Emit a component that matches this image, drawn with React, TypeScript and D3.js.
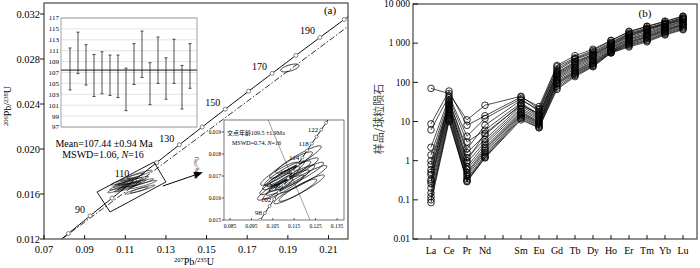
import * as d3 from "d3";

const SERIF = "'Liberation Serif', 'Times New Roman', 'Noto Sans CJK SC', serif";

// ---- panel (a): U-Pb concordia ----
const LAMBDA_238 = 1.55125e-10;
const LAMBDA_235 = 9.8485e-10;
const concordia = (t: number): [number, number] => [
  Math.exp(LAMBDA_235 * t * 1e6) - 1,
  Math.exp(LAMBDA_238 * t * 1e6) - 1,
];

const xTicksA = [0.07, 0.09, 0.11, 0.13, 0.15, 0.17, 0.19, 0.21];
const yTicksA = [0.012, 0.016, 0.02, 0.024, 0.028, 0.032];
const ageMarksA = [80, 90, 100, 110, 120, 130, 140, 150, 160, 170, 180, 190, 200];
const ageLabelsA = [90, 110, 130, 150, 170, 190];

// 16 analyses: 207Pb/235U, 206Pb/238U, errors, correlation
const ellX = [0.117, 0.1135, 0.115, 0.1105, 0.114, 0.109, 0.1175, 0.112, 0.107, 0.11, 0.119, 0.1185, 0.1155, 0.108, 0.1125, 0.106];
const ellY = [0.01775, 0.0175, 0.0172, 0.01712, 0.0169, 0.0169, 0.017, 0.0167, 0.01665, 0.0165, 0.01685, 0.01645, 0.0163, 0.0171, 0.0171, 0.0164];
const ellSx = [0.0085, 0.008, 0.009, 0.0075, 0.0085, 0.007, 0.009, 0.008, 0.0065, 0.0075, 0.009, 0.0085, 0.008, 0.007, 0.0082, 0.0065];
const ellSy = [0.0005, 0.00048, 0.0005, 0.00045, 0.00048, 0.00042, 0.0005, 0.00046, 0.0004, 0.00044, 0.0005, 0.00048, 0.00045, 0.00042, 0.00047, 0.0004];
const ellRho = [0.93, 0.92, 0.93, 0.92, 0.93, 0.91, 0.94, 0.93, 0.9, 0.92, 0.94, 0.94, 0.93, 0.91, 0.92, 0.9];

// discordant grain near 180 Ma
const outlier = { x: 0.191, y: 0.0272, sx: 0.0045, sy: 0.00035, rho: 0.6 };

// dash-dot reference line and annotation box / arrow (data coordinates)
const dashLine: [number, number][] = [[0.0788, 0.012], [0.22, 0.03094]];
const clusterBox: [number, number][] = [[0.0961, 0.01618], [0.1241, 0.01884], [0.13, 0.01707], [0.1025, 0.0144]];
const arrowA: [number, number][] = [[0.1285, 0.01671], [0.1482, 0.01793]];

// weighted mean inset
const meanTicks = [97, 99, 101, 103, 105, 107, 109, 111, 113, 115, 117];
const barLow = [103.8, 106.8, 104.7, 102.6, 103.1, 102.8, 102.4, 100.0, 104.8, 106.1, 101.1, 105.0, 102.1, 105.0, 100.3, 104.1];
const barHigh = [111.5, 114.4, 112.1, 110.3, 110.8, 110.2, 110.2, 107.8, 112.3, 114.6, 108.8, 113.5, 109.7, 113.1, 108.3, 112.3];
const meanAge = 107.44;

// zoomed concordia inset
const xTicksI = [0.085, 0.095, 0.105, 0.115, 0.125, 0.135];
const yTicksI = [0.015, 0.016, 0.017, 0.018, 0.019];
const ageMarksI = [96, 98, 100, 102, 104, 106, 108, 110, 112, 114, 116, 118, 120, 122, 124];
const ageLabelsI = [98, 102, 106, 110, 114, 118, 122];
const discordiaI: [number, number][] = [[0.1028, 0.01955], [0.1224, 0.015]];

// ---- panel (b): chondrite-normalised REE ----
const reeAxis = ["La", "Ce", "Pr", "Nd", "Pm", "Sm", "Eu", "Gd", "Tb", "Dy", "Ho", "Er", "Tm", "Yb", "Lu"];
const reeElements = ["La", "Ce", "Pr", "Nd", "Sm", "Eu", "Gd", "Tb", "Dy", "Ho", "Er", "Tm", "Yb", "Lu"];
const yTicksB = [0.01, 0.1, 1, 10, 100, 1000, 10000];
const yTickLabelsB = ["0.01", "0.1", "1", "10", "100", "1 000", "10 000"];
const reeSamples: number[][] = [
  [70, 52, 11, 26, 44, 21, 250, 420, 650, 1150, 1950, 2650, 3550, 4800],
  [8.7, 60, 8.0, 14, 42, 24, 270, 480, 700, 1180, 2000, 2700, 3650, 4900],
  [6.1, 45, 4.2, 12, 38, 18, 220, 400, 600, 1050, 1800, 2450, 3300, 4500],
  [2.2, 40, 3.0, 6.0, 30, 15, 180, 340, 520, 950, 1650, 2250, 3100, 4200],
  [1.4, 35, 1.6, 4.5, 28, 14, 160, 300, 480, 880, 1500, 2100, 2900, 3900],
  [0.99, 30, 1.2, 3.5, 25, 13, 150, 280, 450, 820, 1400, 1950, 2700, 3700],
  [0.79, 28, 0.9, 3.0, 22, 12, 140, 260, 420, 780, 1300, 1800, 2600, 3500],
  [0.59, 25, 0.7, 2.6, 20, 11, 130, 240, 390, 740, 1250, 1700, 2450, 3300],
  [0.44, 22, 0.6, 2.2, 18, 10, 120, 220, 360, 700, 1180, 1600, 2300, 3100],
  [0.33, 20, 0.5, 2.0, 17, 9.5, 110, 200, 340, 660, 1100, 1500, 2200, 3000],
  [0.26, 18, 0.45, 1.8, 16, 9, 100, 190, 320, 640, 1050, 1450, 2100, 2900],
  [0.2, 16, 0.4, 1.6, 15, 8.5, 95, 180, 300, 620, 1000, 1400, 2000, 2800],
  [0.15, 14, 0.35, 1.4, 14, 8, 90, 170, 290, 600, 950, 1300, 1900, 2600],
  [0.12, 12, 0.32, 1.3, 13, 7.5, 80, 160, 270, 580, 900, 1200, 1800, 2450],
  [0.1, 11, 0.3, 1.2, 12, 7, 72, 150, 260, 570, 850, 1150, 1700, 2300],
  [0.085, 10, 0.29, 1.18, 11, 6.9, 66, 140, 250, 560, 800, 1080, 1620, 2200],
  [0.5, 33, 2.0, 8, 35, 20, 200, 380, 560, 1000, 1700, 2350, 3200, 4300],
  [0.3, 26, 1.0, 5, 26, 16, 170, 320, 500, 900, 1550, 2200, 3000, 4000],
];

// error ellipse outline (k scales the drawn confidence level)
function ellipsePts(cx: number, cy: number, sx: number, sy: number, r: number, k: number) {
  const pts: [number, number][] = [];
  for (let i = 0; i < 60; i++) {
    const a = (i / 60) * 2 * Math.PI;
    pts.push([cx + k * sx * Math.cos(a), cy + k * sy * (r * Math.cos(a) + Math.sqrt(1 - r * r) * Math.sin(a))]);
  }
  return pts;
}

const range = (a: number, b: number, s: number) => d3.range(a, b + s / 2, s);

export default function App() {
  // panel (a) scales
  const xA = d3.scaleLinear().domain([0.07, 0.21]).range([44, 328.5]);
  const yA = d3.scaleLinear().domain([0.012, 0.032]).range([239, 14]);
  const aL = 44, aR = 348, aT = 3, aB = 239;
  const lineA = d3.line<[number, number]>().x((d) => xA(d[0])).y((d) => yA(d[1]));
  const closedA = d3.line<[number, number]>().x((d) => xA(d[0])).y((d) => yA(d[1])).curve(d3.curveLinearClosed);
  const concA = range(74, 210, 1).map(concordia);

  // inset: weighted mean
  const yM = d3.scaleLinear().domain([97, 117]).range([127, 18]);
  const xM = d3.scaleLinear().domain([0, 15]).range([70, 190]);

  // inset: zoomed concordia
  const xI = d3.scaleLinear().domain([0.085, 0.135]).range([230, 337]);
  const yI = d3.scaleLinear().domain([0.015, 0.019]).range([220, 132]);
  const iL = 224, iR = 344, iT = 120, iB = 220;
  const lineI = d3.line<[number, number]>().x((d) => xI(d[0])).y((d) => yI(d[1]));
  const closedI = d3.line<[number, number]>().x((d) => xI(d[0])).y((d) => yI(d[1])).curve(d3.curveLinearClosed);
  const concI = range(94, 127, 0.5).map(concordia);

  // panel (b) scales
  const xB = d3.scalePoint<string>().domain(reeAxis).range([431, 683]);
  const yB = d3.scaleLog().domain([0.01, 10000]).range([239, 4]);
  const bL = 413, bR = 697, bT = 4, bB = 239;
  const lineB = d3
    .line<number>()
    .x((_, i) => xB(reeElements[i])!)
    .y((d) => yB(d));

  // arrow
  const a0 = [xA(arrowA[0][0]), yA(arrowA[0][1])];
  const a1 = [xA(arrowA[1][0]), yA(arrowA[1][1])];
  const ang = Math.atan2(a1[1] - a0[1], a1[0] - a0[0]);
  const hl = 9, hw = 3.5;
  const bx = a1[0] - hl * Math.cos(ang), by = a1[1] - hl * Math.sin(ang);
  const head = `M${a1[0]},${a1[1]}L${bx + hw * Math.sin(ang)},${by - hw * Math.cos(ang)}L${bx - hw * Math.sin(ang)},${by + hw * Math.cos(ang)}Z`;

  return (
    <svg
      width={700}
      height={268}
      style={{ position: "absolute", left: 0, top: 0, background: "#fff" }}
      fontFamily={SERIF}
    >
      <defs>
        <clipPath id="clipA">
          <rect x={aL} y={aT} width={aR - aL} height={aB - aT} />
        </clipPath>
        <clipPath id="clipI">
          <rect x={iL} y={iT} width={iR - iL} height={iB - iT} />
        </clipPath>
      </defs>

      {/* ===== panel (a) ===== */}
      <g clipPath="url(#clipA)">
        <path d={lineA(concA)!} fill="none" stroke="#000" strokeWidth={1} />
        <path d={lineA(dashLine)!} fill="none" stroke="#000" strokeWidth={0.8} strokeDasharray="6,2,1.5,2" />
        {ageMarksA.map((t) => {
          const [cx, cy] = concordia(t);
          return <circle key={t} cx={xA(cx)} cy={yA(cy)} r={2} fill="#fff" stroke="#666" strokeWidth={0.8} />;
        })}
        {ageLabelsA.map((t) => {
          const [cx, cy] = concordia(t);
          return (
            <text key={t} x={xA(cx) - 5} y={yA(cy) - 3} fontSize={10} textAnchor="end">
              {t}
            </text>
          );
        })}
        {ellX.map((_, i) => (
          <path
            key={i}
            d={closedA(ellipsePts(ellX[i], ellY[i], ellSx[i], ellSy[i], ellRho[i], 0.72))!}
            fill="none"
            stroke="#000"
            strokeWidth={0.6}
          />
        ))}
        <path d={closedA(ellipsePts(outlier.x, outlier.y, outlier.sx, outlier.sy, outlier.rho, 1))!} fill="none" stroke="#000" strokeWidth={0.8} />
        <path d={closedA(clusterBox)!} fill="none" stroke="#000" strokeWidth={0.9} />
        <line x1={a0[0]} y1={a0[1]} x2={bx} y2={by} stroke="#000" strokeWidth={1} />
        <path d={head} fill="#000" />
      </g>

      {/* weighted mean inset */}
      <rect x={61} y={18} width={136} height={109} fill="#fff" />
      {meanTicks.map((v) => (
        <g key={v}>
          <line x1={61} x2={197} y1={yM(v)} y2={yM(v)} stroke="#d0d0d0" strokeWidth={0.6} />
          <text x={59} y={yM(v) + 2.4} fontSize={7} textAnchor="end">
            {v}
          </text>
        </g>
      ))}
      <rect x={61} y={18} width={136} height={109} fill="none" stroke="#999" strokeWidth={0.9} />
      <line x1={61} x2={197} y1={yM(meanAge)} y2={yM(meanAge)} stroke="#777" strokeWidth={1.6} />
      {barLow.map((lo, i) => (
        <g key={i} stroke="#222" strokeWidth={0.8}>
          <line x1={xM(i)} x2={xM(i)} y1={yM(lo)} y2={yM(barHigh[i])} />
          <line x1={xM(i) - 1.5} x2={xM(i) + 1.5} y1={yM(lo)} y2={yM(lo)} />
          <line x1={xM(i) - 1.5} x2={xM(i) + 1.5} y1={yM(barHigh[i])} y2={yM(barHigh[i])} />
        </g>
      ))}
      <text x={104} y={147} fontSize={10} textAnchor="middle">
        Mean=107.44 ±0.94 Ma
      </text>
      <text x={103} y={158} fontSize={10} textAnchor="middle">
        MSWD=1.06, <tspan fontStyle="italic">N</tspan>=16
      </text>

      {/* zoomed concordia inset */}
      <rect x={iL} y={iT} width={iR - iL} height={iB - iT} fill="#fff" stroke="#555" strokeWidth={0.8} />
      <g clipPath="url(#clipI)">
        <path d={lineI(discordiaI)!} fill="none" stroke="#777" strokeWidth={0.7} />
        {ellX.map((_, i) => (
          <path
            key={i}
            d={closedI(ellipsePts(ellX[i], ellY[i], ellSx[i], ellSy[i], ellRho[i], 1.25))!}
            fill="none"
            stroke="#000"
            strokeWidth={0.7}
          />
        ))}
        <path d={lineI(concI)!} fill="none" stroke="#000" strokeWidth={0.9} />
        {ageMarksI.map((t) => {
          const [cx, cy] = concordia(t);
          return <circle key={t} cx={xI(cx)} cy={yI(cy)} r={1.5} fill="#fff" stroke="#444" strokeWidth={0.6} />;
        })}
        {ageLabelsI.map((t) => {
          const [cx, cy] = concordia(t);
          return (
            <text key={t} x={xI(cx) - 3} y={yI(cy) + 2.5} fontSize={7} textAnchor="end">
              {t}
            </text>
          );
        })}
        <text x={227} y={135} fontSize={6}>
          交点年龄109.5 ±1.9Ma
        </text>
        <text x={232} y={145} fontSize={6}>
          MSWD=0.74, <tspan fontStyle="italic">N</tspan>=16
        </text>
      </g>
      {xTicksI.map((v) => (
        <g key={v}>
          <line x1={xI(v)} x2={xI(v)} y1={iB} y2={iB - 2} stroke="#000" strokeWidth={0.6} />
          <text x={xI(v)} y={228} fontSize={5.5} textAnchor="middle">
            {v.toFixed(3)}
          </text>
        </g>
      ))}
      {yTicksI.map((v) => (
        <g key={v}>
          <line x1={iL} x2={iL - 2.5} y1={yI(v)} y2={yI(v)} stroke="#000" strokeWidth={0.6} />
          <text x={iL - 3} y={yI(v) + 2} fontSize={5.5} textAnchor="end">
            {v.toFixed(3)}
          </text>
        </g>
      ))}
      <text transform="translate(199,168) rotate(-90)" fontSize={5.5} textAnchor="middle">
        <tspan fontSize={3.8} dy={-2}>206</tspan>
        <tspan dy={2}>Pb/</tspan>
        <tspan fontSize={3.8} dy={-2}>238</tspan>
        <tspan dy={2}>U</tspan>
      </text>

      {/* frame and axes (a) */}
      <rect x={aL} y={aT} width={aR - aL} height={aB - aT} fill="none" stroke="#555" strokeWidth={1.3} />
      {xTicksA.map((v) => (
        <g key={v}>
          <line x1={xA(v)} x2={xA(v)} y1={aB} y2={aB - 4} stroke="#000" strokeWidth={0.9} />
          <text x={xA(v)} y={252.5} fontSize={10.5} textAnchor="middle">
            {v.toFixed(2)}
          </text>
        </g>
      ))}
      {yTicksA.map((v) => (
        <g key={v}>
          <line x1={aL} x2={aL - 4} y1={yA(v)} y2={yA(v)} stroke="#000" strokeWidth={0.9} />
          <text x={40} y={yA(v) + 3.5} fontSize={10.5} textAnchor="end">
            {v.toFixed(3)}
          </text>
        </g>
      ))}
      <text x={330} y={14} fontSize={11} textAnchor="middle">
        (a)
      </text>
      <text x={194} y={265} fontSize={10} textAnchor="middle">
        <tspan fontSize={6.5} dy={-3.5}>207</tspan>
        <tspan dy={3.5}>Pb/</tspan>
        <tspan fontSize={6.5} dy={-3.5}>235</tspan>
        <tspan dy={3.5}>U</tspan>
      </text>
      <text transform="translate(11,106) rotate(-90)" fontSize={10} textAnchor="middle">
        <tspan fontSize={6.5} dy={-3.5}>206</tspan>
        <tspan dy={3.5}>Pb/</tspan>
        <tspan fontSize={6.5} dy={-3.5}>238</tspan>
        <tspan dy={3.5}>U</tspan>
      </text>

      {/* ===== panel (b) ===== */}
      {reeSamples.map((s, i) => (
        <path key={i} d={lineB(s)!} fill="none" stroke="#000" strokeWidth={0.7} />
      ))}
      {reeSamples.map((s, i) =>
        s.map((v, j) => (
          <circle key={`${i}-${j}`} cx={xB(reeElements[j])!} cy={yB(v)} r={3.3} fill="none" stroke="#000" strokeWidth={0.8} />
        ))
      )}
      <rect x={bL} y={bT} width={bR - bL} height={bB - bT} fill="none" stroke="#555" strokeWidth={1.3} />
      {reeAxis.map((el) => (
        <g key={el}>
          <line x1={xB(el)!} x2={xB(el)!} y1={bB} y2={bB - 4} stroke="#000" strokeWidth={0.9} />
          {el !== "Pm" && (
            <text x={xB(el)!} y={254} fontSize={10} textAnchor="middle">
              {el}
            </text>
          )}
        </g>
      ))}
      {yTicksB.map((v, i) => (
        <g key={v}>
          <line x1={bL} x2={bL + 5} y1={yB(v)} y2={yB(v)} stroke="#000" strokeWidth={0.9} />
          <text x={410} y={yB(v) + 3.3} fontSize={9.5} textAnchor="end">
            {yTickLabelsB[i]}
          </text>
        </g>
      ))}
      <text x={645} y={17} fontSize={11} textAnchor="middle">
        (b)
      </text>
      <text transform="translate(383,119) rotate(-90)" fontSize={11} textAnchor="middle" fontFamily="'Noto Sans CJK SC', sans-serif" fill="#444">
        样品/球粒陨石
      </text>
    </svg>
  );
}
